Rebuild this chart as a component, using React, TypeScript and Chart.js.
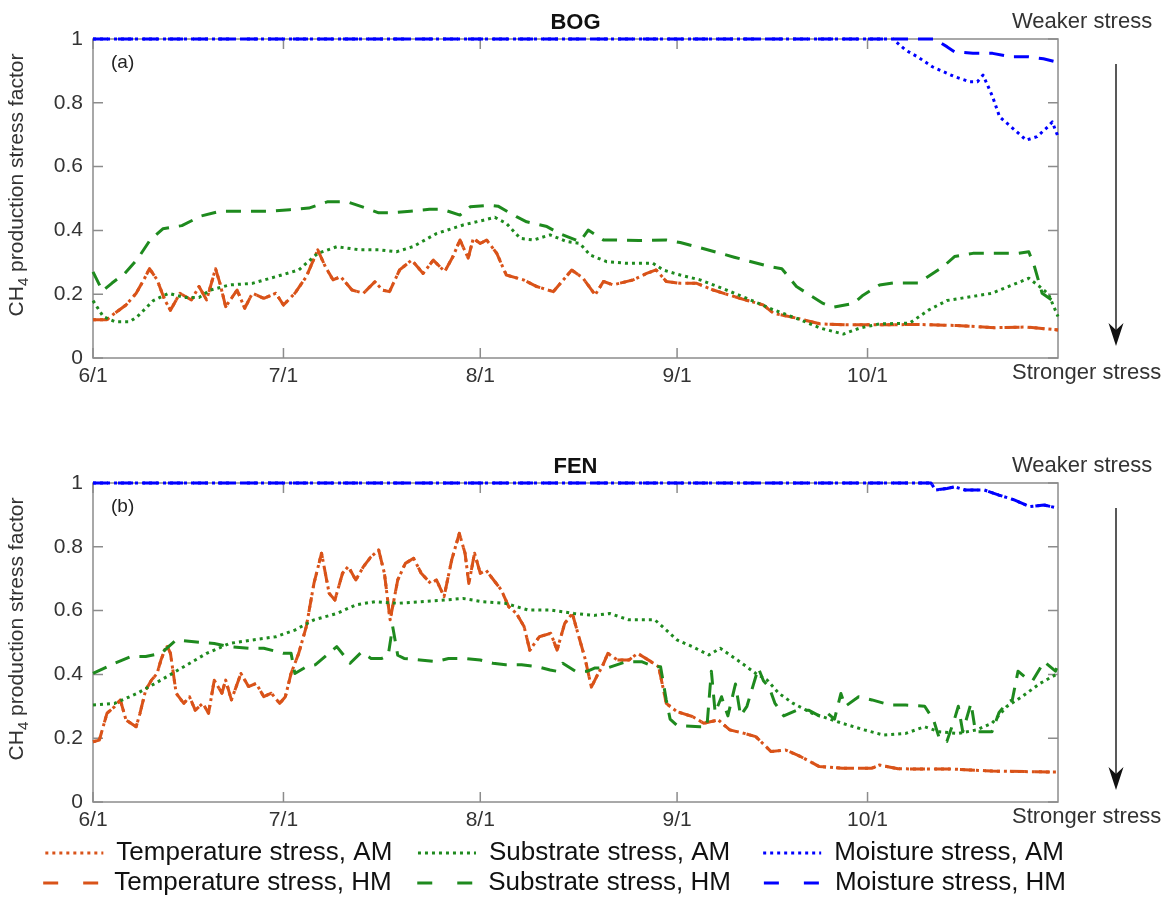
import React, { useEffect, useRef } from 'react';
import { Chart, registerables } from 'chart.js';

Chart.register(...registerables);

const FONT = '"Liberation Sans", Arial, Helvetica, sans-serif';
Chart.defaults.font.family = FONT;

// ---------- axes ----------
const xTickDays = [0, 30, 61, 92, 122];
const xTickLabels = ['6/1', '7/1', '8/1', '9/1', '10/1'];
const xMaxDay = 152;
const yTickValues = [0, 0.2, 0.4, 0.6, 0.8, 1];
const yTickLabels = ['0', '0.2', '0.4', '0.6', '0.8', '1'];
const yTitleParts = ['CH', '4', ' production stress factor'];

// ---------- legend / series ----------
const seriesLabels = [
  'Temperature stress, AM',
  'Substrate stress, AM',
  'Moisture stress, AM',
  'Temperature stress, HM',
  'Substrate stress, HM',
  'Moisture stress, HM',
];
const seriesColors = ['#D95319', '#1E8A1E', '#0000FF', '#D95319', '#1E8A1E', '#0000FF'];
const seriesIsAM = [true, true, true, false, false, false];
const seriesDrawOrder = [2, 1, 0, 2, 1, 0];

// ---------- BOG ----------
const bogTempDays = [0,1,2.2,3.4,5.2,6.8,8,8.9,10.1,11.3,12.2,13.7,15.5,16.7,17.9,19.3,20,20.9,22.7,23.9,25.1,26.9,28.8,30,31.8,33.6,35.4,36.6,37.8,39,40.8,42.6,44.4,45.6,46.7,48.3,50.2,52,53.6,55.4,56.7,57.8,59.1,59.9,61,62,63.6,65.1,67.8,69.9,72.5,74.1,75.4,77.2,79.1,80.4,81.9,85.1,87.2,88.7,90.3,92.5,95.1,97.7,101.9,105.6,107.2,110.8,114.5,118.7,124,130,136,142,147,152];
const bogTempVals = [0.12,0.12,0.12,0.14,0.166,0.203,0.245,0.28,0.245,0.182,0.15,0.203,0.182,0.224,0.182,0.28,0.234,0.161,0.213,0.156,0.203,0.187,0.203,0.166,0.203,0.255,0.339,0.286,0.245,0.255,0.213,0.203,0.239,0.213,0.208,0.276,0.307,0.265,0.307,0.271,0.318,0.37,0.313,0.375,0.359,0.37,0.328,0.26,0.245,0.224,0.208,0.245,0.276,0.25,0.198,0.24,0.229,0.245,0.265,0.276,0.24,0.234,0.234,0.213,0.187,0.166,0.14,0.125,0.107,0.104,0.104,0.105,0.102,0.095,0.097,0.088];

const bogSubAmDays = [0,1.6,3.4,5.8,7,9.5,11.9,14.3,16.7,18.5,21.5,25.1,28.8,32.4,35.4,38.4,42,45.2,47.8,50.4,54.1,58.3,61.5,63.3,65.1,67.3,69.4,72,74.6,76.7,78.3,80.9,84,88.2,89.8,92.5,95.6,99.8,103,107.2,111.4,114.5,118.2,120.8,123.9,128.6,131.6,134.5,141.6,147.4,149.1,150.5,152];
const bogSubAmVals = [0.18,0.13,0.114,0.114,0.13,0.18,0.203,0.19,0.19,0.213,0.229,0.234,0.255,0.276,0.328,0.349,0.339,0.339,0.333,0.349,0.39,0.417,0.432,0.441,0.422,0.375,0.37,0.386,0.365,0.359,0.323,0.302,0.297,0.297,0.276,0.26,0.245,0.213,0.187,0.151,0.12,0.094,0.075,0.094,0.107,0.109,0.15,0.18,0.203,0.25,0.224,0.2,0.13];

const bogSubHmDays = [0,1.5,3,5,7,9,11,14,17,20,24,28,31,34,37,40,43,45,47,50,53,55,57.8,59.4,62.5,63.8,66.7,68.3,71.5,73.5,76.7,78,80.4,82.5,86,90.3,92.5,96.5,101,106.5,108.5,110.8,115,116.6,119.8,121.3,123.9,126,130,133.9,135.7,138.6,145.7,147.4,148.3,149.5,151,152];
const bogSubHmVals = [0.27,0.21,0.235,0.265,0.31,0.37,0.405,0.415,0.445,0.46,0.46,0.46,0.465,0.47,0.49,0.49,0.47,0.455,0.455,0.46,0.466,0.466,0.448,0.474,0.479,0.476,0.443,0.427,0.412,0.39,0.365,0.401,0.37,0.37,0.368,0.37,0.362,0.341,0.316,0.287,0.28,0.224,0.171,0.159,0.171,0.197,0.229,0.235,0.235,0.286,0.318,0.328,0.328,0.333,0.286,0.203,0.182,0.19];

const bogMoistAmDays = [0,126,128,129.9,132.2,135.7,138.1,139.3,140.2,141.7,142.8,144.6,147,148.7,150.4,151.1,152];
const bogMoistAmVals = [1,1,0.965,0.944,0.913,0.882,0.866,0.866,0.887,0.819,0.756,0.725,0.683,0.694,0.725,0.74,0.694];

const bogMoistHmDays = [0,132.5,134.5,135.7,138.6,141.7,144.6,147.4,149.7,152];
const bogMoistHmVals = [1,1,0.976,0.96,0.955,0.955,0.944,0.944,0.938,0.927];

// ---------- FEN ----------
const fenTempDays = [0,1,2.2,3.4,4.3,5.2,6.8,7.4,8.3,9.2,10.1,10.7,11.6,12.2,13.1,14.3,15.2,16.1,17.3,18.2,19.1,20.3,20.9,21.8,23.3,24.5,25.7,26.9,28.1,29.4,30.3,31.2,32.4,33.6,34.8,36,37.2,38.1,39.3,40.2,41.4,42.6,43.8,45,45.9,46.8,48,49.2,50.5,51.7,53.2,54.1,55.3,56.5,57.7,58.6,59.2,60.1,61,61.9,63.1,64.3,65.5,66.7,67.9,68.8,70.3,72.1,73.1,74.3,75.5,76.5,77.5,78.5,79.5,80.2,81.1,82.6,84.4,85.8,87.9,89.1,90.3,92,94.4,96.2,98.5,100.3,102.6,104.4,106.8,109.1,111.5,114.4,118,122.7,123.9,126.8,135.7,141.6,147.5,152];
const fenTempVals = [0.189,0.194,0.278,0.299,0.32,0.257,0.236,0.278,0.351,0.382,0.403,0.445,0.492,0.466,0.341,0.309,0.33,0.288,0.309,0.278,0.382,0.341,0.382,0.32,0.403,0.362,0.372,0.33,0.341,0.309,0.33,0.403,0.466,0.55,0.685,0.78,0.654,0.633,0.717,0.738,0.696,0.738,0.769,0.79,0.717,0.571,0.696,0.748,0.764,0.717,0.685,0.696,0.644,0.759,0.842,0.78,0.685,0.78,0.717,0.727,0.696,0.665,0.612,0.591,0.55,0.476,0.518,0.529,0.476,0.56,0.591,0.52,0.45,0.36,0.4,0.424,0.466,0.445,0.445,0.466,0.44,0.424,0.309,0.283,0.268,0.247,0.257,0.226,0.215,0.205,0.158,0.163,0.142,0.111,0.106,0.106,0.116,0.104,0.103,0.097,0.095,0.094];

const fenSubAmDays = [0,3.4,7,10.7,14.3,17.9,21.5,25.1,28.8,31.8,34.8,38.4,41.4,44.4,48,51.7,55.3,58.3,61.3,64.9,68.5,72.1,75.8,79,81.4,84.4,88.5,90.3,92,94.4,97,98.8,101.5,104.4,106.2,108,110.3,113.3,118,121.5,124.5,128,131,133.3,136.3,139.2,141.6,143.9,146.3,149.2,152];
const fenSubAmVals = [0.304,0.309,0.341,0.382,0.424,0.466,0.497,0.508,0.518,0.539,0.571,0.591,0.618,0.628,0.623,0.628,0.633,0.638,0.628,0.623,0.602,0.602,0.591,0.585,0.591,0.571,0.571,0.539,0.508,0.487,0.461,0.482,0.445,0.403,0.382,0.341,0.309,0.278,0.247,0.226,0.21,0.215,0.236,0.22,0.215,0.226,0.247,0.299,0.33,0.372,0.403];

const fenSubHmDays = [0,3.4,6,8.3,10.7,13.1,15.5,19.1,21.5,24.5,26.9,30,31.2,31.8,33.6,35,38.4,40.5,42.3,43.8,45.5,46.5,47.2,48,49,51.5,54,56,58.5,61,63,65,67.5,70,72,73,74,76,77.9,79,81,84,86.4,88.5,89.4,90.3,90.9,92,95.6,96.7,97.4,98,99,100,101.2,102,103,104.8,105.6,106.5,107.4,108.8,110.9,112.7,114.4,115.6,116.8,117.8,118.5,120.6,122.7,125.6,128,131,132.4,133.3,134.5,135.7,136.3,137,138.3,139,141.6,142.7,143.9,144.8,145.7,146.9,148,149.8,151.6,152];
const fenSubHmVals = [0.403,0.435,0.456,0.456,0.466,0.508,0.503,0.497,0.487,0.482,0.482,0.466,0.466,0.403,0.424,0.43,0.487,0.435,0.47,0.45,0.45,0.46,0.55,0.46,0.45,0.445,0.44,0.45,0.45,0.445,0.435,0.43,0.43,0.424,0.414,0.41,0.435,0.41,0.41,0.42,0.42,0.44,0.44,0.424,0.424,0.32,0.26,0.24,0.236,0.236,0.41,0.28,0.33,0.27,0.37,0.27,0.3,0.42,0.38,0.36,0.31,0.27,0.288,0.288,0.27,0.28,0.26,0.34,0.3,0.33,0.32,0.304,0.304,0.3,0.257,0.2,0.19,0.26,0.3,0.22,0.31,0.22,0.22,0.28,0.31,0.32,0.41,0.39,0.38,0.44,0.41,0.43];

const fenMoistDays = [0,132,132.7,134.5,135.7,137.4,140.4,142.7,145.1,147.5,149.8,152];
const fenMoistVals = [1,1,0.978,0.983,0.988,0.978,0.978,0.962,0.947,0.926,0.931,0.921];

// ---------- styles ----------
const AXIS_COLOR = '#8c8c8c';
const TEXT_COLOR = '#333333';
const LINE_WIDTH = 3;
const DOT = [3, 4];
const DASH = [15, 10];
const LEGEND_DOT = [3, 4];
const LEGEND_DASH = [15, 25];
const legendTrailingSpaces = [3, 4, 8];

type Panel = {
  title: string;
  tag: string;
  days: number[][];
  vals: number[][];
};

const bogPanel: Panel = {
  title: 'BOG',
  tag: '(a)',
  days: [bogTempDays, bogSubAmDays, bogMoistAmDays, bogTempDays, bogSubHmDays, bogMoistHmDays],
  vals: [bogTempVals, bogSubAmVals, bogMoistAmVals, bogTempVals, bogSubHmVals, bogMoistHmVals],
};

const fenPanel: Panel = {
  title: 'FEN',
  tag: '(b)',
  days: [fenTempDays, fenSubAmDays, fenMoistDays, fenTempDays, fenSubHmDays, fenMoistDays],
  vals: [fenTempVals, fenSubAmVals, fenMoistVals, fenTempVals, fenSubHmVals, fenMoistVals],
};

function zip(days: number[], vals: number[]) {
  const n = Math.min(days.length, vals.length);
  const out: { x: number; y: number }[] = [];
  for (let i = 0; i < n; i++) out.push({ x: days[i], y: vals[i] });
  return out;
}

function decorPlugin(tag: string) {
  return {
    id: 'panelDecor',
    beforeDatasetsDraw(chart: any) {
      const { ctx, chartArea, scales } = chart;
      const { left, right, top, bottom } = chartArea;
      ctx.save();
      ctx.strokeStyle = AXIS_COLOR;
      ctx.lineWidth = 1.5;
      ctx.strokeRect(left, top, right - left, bottom - top);
      ctx.beginPath();
      const tl = 10;
      for (const d of xTickDays) {
        const px = scales.x.getPixelForValue(d);
        ctx.moveTo(px, bottom);
        ctx.lineTo(px, bottom - tl);
        ctx.moveTo(px, top);
        ctx.lineTo(px, top + tl);
      }
      for (const v of yTickValues) {
        const py = scales.y.getPixelForValue(v);
        ctx.moveTo(left, py);
        ctx.lineTo(left + tl, py);
        ctx.moveTo(right, py);
        ctx.lineTo(right - tl, py);
      }
      ctx.stroke();
      ctx.restore();
    },
    afterDraw(chart: any) {
      const { ctx, chartArea } = chart;
      const { left, right, top, bottom } = chartArea;
      ctx.save();

      // y-axis title with subscript
      const bigFont = `21px ${FONT}`;
      const subFont = `15px ${FONT}`;
      ctx.font = bigFont;
      const w0 = ctx.measureText(yTitleParts[0]).width;
      const w2 = ctx.measureText(yTitleParts[2]).width;
      ctx.font = subFont;
      const w1 = ctx.measureText(yTitleParts[1]).width;
      const total = w0 + w1 + w2;
      ctx.save();
      ctx.translate(16, top + 146);
      ctx.rotate(-Math.PI / 2);
      ctx.fillStyle = TEXT_COLOR;
      ctx.textAlign = 'left';
      ctx.textBaseline = 'alphabetic';
      let tx = -total / 2;
      ctx.font = bigFont;
      ctx.fillText(yTitleParts[0], tx, 7);
      tx += w0;
      ctx.font = subFont;
      ctx.fillText(yTitleParts[1], tx, 12);
      tx += w1;
      ctx.font = bigFont;
      ctx.fillText(yTitleParts[2], tx, 7);
      ctx.restore();

      ctx.textBaseline = 'middle';
      ctx.textAlign = 'left';
      ctx.fillStyle = '#222';
      ctx.font = `19px ${FONT}`;
      ctx.fillText(tag, left + 18, top + 24);
      ctx.font = `22px ${FONT}`;
      ctx.fillStyle = TEXT_COLOR;
      ctx.fillText('Weaker stress', right - 46, top - 17);
      ctx.fillText('Stronger stress', right - 46, bottom + 15);
      // arrow
      const ax = right + 58;
      const y0 = top + 25;
      const y1 = bottom - 12;
      ctx.strokeStyle = '#222';
      ctx.fillStyle = '#111';
      ctx.lineWidth = 1.5;
      ctx.beginPath();
      ctx.moveTo(ax, y0);
      ctx.lineTo(ax, y1 - 12);
      ctx.stroke();
      ctx.beginPath();
      ctx.moveTo(ax, y1);
      ctx.lineTo(ax - 7.5, y1 - 23);
      ctx.lineTo(ax, y1 - 16);
      ctx.lineTo(ax + 7.5, y1 - 23);
      ctx.closePath();
      ctx.fill();
      ctx.restore();
    },
  };
}

function makeConfig(panel: Panel, withLegend: boolean): any {
  const datasets = seriesLabels.map((label, i) => ({
    label,
    data: zip(panel.days[i], panel.vals[i]),
    borderColor: seriesColors[i],
    backgroundColor: seriesColors[i],
    borderWidth: LINE_WIDTH,
    borderDash: seriesIsAM[i] ? DOT : DASH,
    borderCapStyle: 'butt',
    borderJoinStyle: 'round',
    pointRadius: 0,
    tension: 0,
    fill: false,
    order: seriesDrawOrder[i],
    clip: false,
  }));

  const tickFont = { family: FONT, size: 21 };

  return {
    type: 'line',
    data: { datasets },
    plugins: [decorPlugin(panel.tag)],
    options: {
      animation: false,
      responsive: false,
      maintainAspectRatio: false,
      events: [],
      layout: { padding: 0 },
      scales: {
        x: {
          type: 'linear',
          min: 0,
          max: xMaxDay,
          afterBuildTicks: (s: any) => {
            s.ticks = xTickDays.map((v) => ({ value: v }));
          },
          ticks: {
            callback: (_v: any, idx: number) => xTickLabels[idx],
            font: tickFont,
            color: TEXT_COLOR,
            padding: 6,
            maxRotation: 0,
            autoSkip: false,
          },
          grid: { display: false, drawTicks: false },
          border: { display: false },
          afterFit: (s: any) => {
            s.height = withLegend ? 34 : 42;
          },
        },
        y: {
          type: 'linear',
          position: 'left',
          min: 0,
          max: 1,
          afterBuildTicks: (s: any) => {
            s.ticks = yTickValues.map((v) => ({ value: v }));
          },
          ticks: {
            callback: (_v: any, idx: number) => yTickLabels[idx],
            font: tickFont,
            color: TEXT_COLOR,
            padding: 10,
          },
          grid: { display: false, drawTicks: false },
          border: { display: false },
          afterFit: (s: any) => {
            s.width = 93;
          },
        },
        yR: {
          type: 'linear',
          position: 'right',
          min: 0,
          max: 1,
          ticks: { display: false },
          grid: { display: false, drawTicks: false },
          border: { display: false },
          afterFit: (s: any) => {
            s.width = 109;
          },
        },
      },
      plugins: {
        tooltip: { enabled: false },
        title: {
          display: true,
          text: panel.title,
          fullSize: false,
          color: '#111',
          font: { family: FONT, size: 22, weight: 'bold' },
          padding: { top: 10, bottom: 2.6 },
        },
        legend: {
          display: withLegend,
          position: 'bottom',
          align: 'center',
          labels: {
            usePointStyle: true,
            pointStyle: 'line',
            pointStyleWidth: 58,
            padding: 4,
            color: '#111',
            font: { family: FONT, size: 26 },
            sort: (a: any, b: any) => a.datasetIndex - b.datasetIndex,
            generateLabels: (chart: any) => {
              const items = (Chart.defaults as any).plugins.legend.labels.generateLabels(chart);
              return items.map((it: any) => {
                const i = it.datasetIndex;
                return {
                  ...it,
                  text: it.text + ' '.repeat(legendTrailingSpaces[i % 3]),
                  lineDash: seriesIsAM[i] ? LEGEND_DOT : LEGEND_DASH,
                  lineWidth: LINE_WIDTH,
                  lineCap: 'butt',
                };
              });
            },
          },
        },
      },
    },
  };
}

export default function App() {
  const topRef = useRef<HTMLCanvasElement | null>(null);
  const botRef = useRef<HTMLCanvasElement | null>(null);

  useEffect(() => {
    const charts: Chart[] = [];
    if (topRef.current) charts.push(new Chart(topRef.current, makeConfig(bogPanel, false)));
    if (botRef.current) charts.push(new Chart(botRef.current, makeConfig(fenPanel, true)));
    return () => charts.forEach((c) => c.destroy());
  }, []);

  return (
    <div
      style={{
        position: 'absolute',
        left: 0,
        top: 0,
        width: 1167,
        height: 901,
        overflow: 'hidden',
        background: '#ffffff',
      }}
    >
      <canvas
        ref={topRef}
        width={1167}
        height={400}
        style={{ position: 'absolute', left: 0, top: 0, width: 1167, height: 400 }}
      />
      <canvas
        ref={botRef}
        width={1167}
        height={462}
        style={{ position: 'absolute', left: 0, top: 444, width: 1167, height: 462 }}
      />
    </div>
  );
}
